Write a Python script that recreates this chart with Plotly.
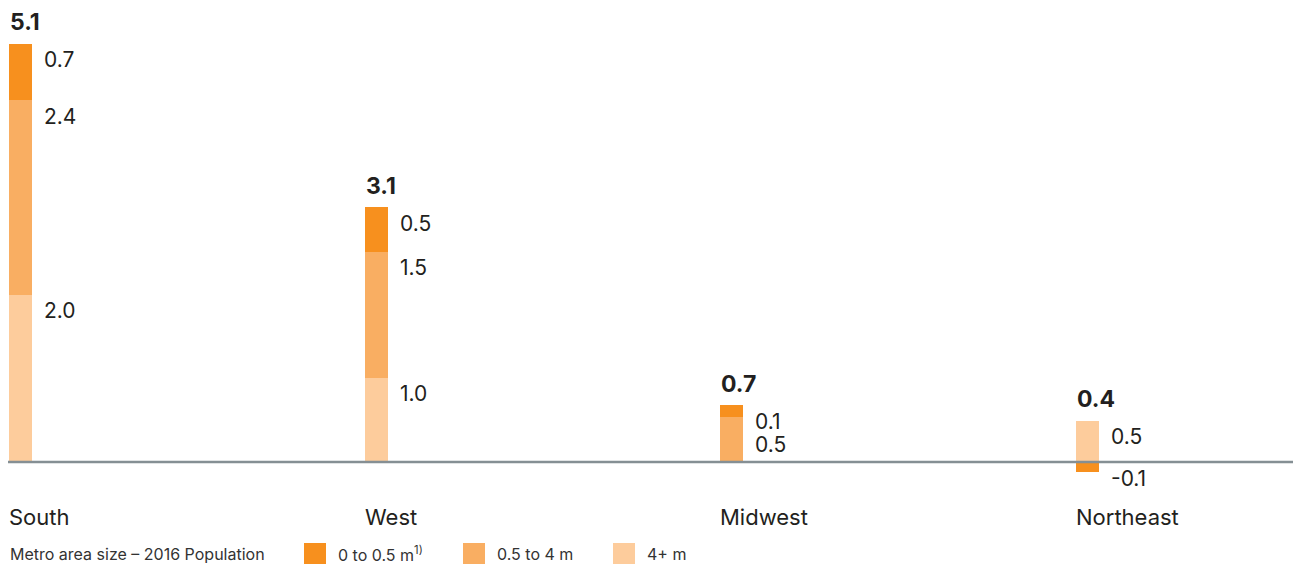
import plotly.graph_objects as go

# ---- data ----
regions = ["South", "West", "Midwest", "Northeast"]
series_names = ["0 to 0.5 m", "0.5 to 4 m", "4+ m"]
legend_title = "Metro area size – 2016 Population"
small_metro = [0.69, 0.54, 0.14, -0.13]   # 0 to 0.5 m
mid_metro = [2.38, 1.54, 0.54, 0.0]       # 0.5 to 4 m
large_metro = [2.03, 1.02, 0.0, 0.49]     # 4+ m
colors = ["#F7901E", "#F9AE62", "#FDCC9C"]

W, H = 1299, 564
X0_PX, STEP_PX = 9, 355.7
ZERO_PX, PX_PER_UNIT = 461, 81.8
BAR_W = 23 / STEP_PX
TXT = "#231F20"
FONT = "Inter, Lato, Arial, sans-serif"

xr = [-X0_PX / STEP_PX, (W - X0_PX) / STEP_PX]
yr = [-(H - ZERO_PX) / PX_PER_UNIT, ZERO_PX / PX_PER_UNIT]


def py(v):
    return ZERO_PX - v * PX_PER_UNIT


fig = go.Figure()
xs = list(range(len(regions)))
# stacking order bottom -> top: large, mid, small
for name, vals, col in [(series_names[2], large_metro, colors[2]),
                        (series_names[1], mid_metro, colors[1]),
                        (series_names[0], small_metro, colors[0])]:
    fig.add_trace(go.Bar(x=xs, y=vals, name=name, marker=dict(color=col, line=dict(width=0)),
                         width=BAR_W, offset=0, showlegend=False, hoverinfo="skip"))

annotations = []
for i, reg in enumerate(regions):
    segs = [large_metro[i], mid_metro[i], small_metro[i]]
    pos_cum = 0.0
    pos_segs = []
    neg_segs = []
    for v in segs:
        if v > 0:
            pos_segs.append((pos_cum, pos_cum + v, v))
            pos_cum += v
        elif v < 0:
            neg_segs.append((v, 0, v))
    total = sum(segs)
    # total label
    annotations.append(dict(x=i, y=pos_cum, xref="x", yref="y", xanchor="left", yanchor="middle",
                            yshift=21.5, xshift=-1, showarrow=False, text=f"<b>{total:.1f}</b>",
                            font=dict(size=23, color=TXT, family=FONT)))
    prev = None
    for lo, hi, v in sorted(pos_segs, key=lambda s: -s[1]):
        c = py(hi) + 16
        if prev is not None and c < prev + 23:
            c = prev + 23
        prev = c
        annotations.append(dict(x=i + BAR_W, y=hi, xref="x", yref="y", xanchor="left", yanchor="middle",
                                xshift=10, yshift=-(c - py(hi)), showarrow=False, text=f"{v:.1f}",
                                font=dict(size=21, color=TXT, family=FONT)))
    for lo, hi, v in neg_segs:
        c = py(lo) + 7
        if prev is not None and c < prev + 23:
            c = prev + 23
        prev = c
        annotations.append(dict(x=i + BAR_W, y=lo, xref="x", yref="y", xanchor="left", yanchor="middle",
                                xshift=10, yshift=-(c - py(lo)), showarrow=False, text=f"{v:.1f}",
                                font=dict(size=21, color=TXT, family=FONT)))
    # category label
    annotations.append(dict(x=i, y=(H - 517) / H, xref="x", yref="paper", xanchor="left", yanchor="middle",
                            xshift=-2, showarrow=False, text=reg,
                            font=dict(size=22, color=TXT, family=FONT)))

# legend (manual)
leg_y = (H - 554) / H
annotations.append(dict(x=8 / W, y=leg_y, xref="paper", yref="paper", xanchor="left", yanchor="middle",
                        showarrow=False, text=legend_title, font=dict(size=16, color="#333333", family=FONT)))
shapes = []
sw_x = [304, 463, 613]
leg_labels = [series_names[0] + "<sup>1)</sup>", series_names[1], series_names[2]]
for sx, lab, col in zip(sw_x, leg_labels, colors):
    shapes.append(dict(type="rect", xref="paper", yref="paper", x0=sx / W, x1=(sx + 22) / W,
                       y0=(H - 565) / H, y1=(H - 543) / H, fillcolor=col, line=dict(width=0), layer="above"))
    annotations.append(dict(x=(sx + 32) / W, y=leg_y, xref="paper", yref="paper", xanchor="left",
                            yanchor="middle", showarrow=False, text=lab,
                            font=dict(size=16, color="#333333", family=FONT)))

# zero line
shapes.append(dict(type="line", xref="paper", yref="y", x0=8 / W, x1=1293 / W, y0=-0.012, y1=-0.012,
                   line=dict(color="#858F94", width=2.5), layer="above"))

fig.update_layout(
    width=W, height=H, margin=dict(l=0, r=0, t=0, b=0),
    paper_bgcolor="white", plot_bgcolor="white",
    barmode="relative", bargap=0,
    xaxis=dict(range=xr, visible=False, fixedrange=True),
    yaxis=dict(range=yr, visible=False, fixedrange=True),
    annotations=annotations, shapes=shapes, showlegend=False,
)
fig.write_html("out.html")
